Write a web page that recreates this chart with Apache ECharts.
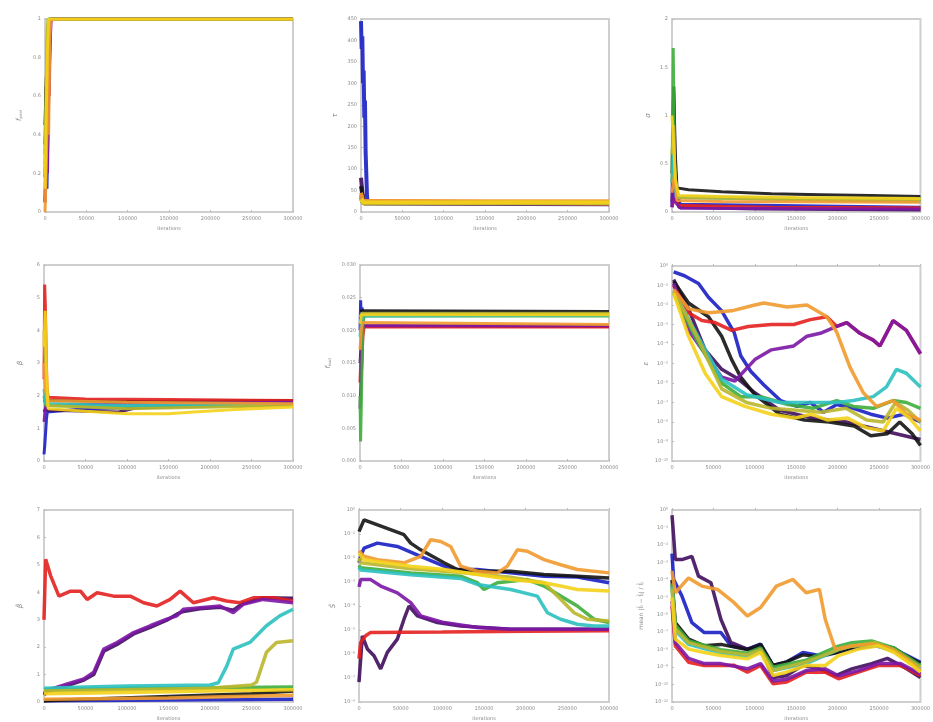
<!DOCTYPE html>
<html><head><meta charset="utf-8">
<script src="https://cdn.jsdelivr.net/npm/echarts@6/dist/echarts.min.js"></script>
<style>html,body{margin:0;padding:0;background:#fff}#c{width:933px;height:722px}</style>
</head><body><div id="c"></div>
<script>
// ---------- shared axis values ----------
const xMin = 0, xMax = 300000, xStep = 50000;
const chainOrder = ['blue','darkpurple','black','red','purple','green','cyan','olive','orange','yellow'];

// ---------- panel 1 : f_peel ----------
const p1_red = [[0,0.05],[1200,0.42],[2400,0.28],[3800,0.75],[5200,0.6],[6500,0.98],[8000,1],[300000,1]];
const p1_orange = [[0,0.0],[1500,0.22],[3000,0.55],[4400,0.4],[5800,0.9],[7200,1],[300000,1]];
const p1_yellow = [[0,0.12],[1500,0.5],[3000,0.85],[4500,1],[300000,1]];
const p1_olive = [[0,0.2],[1200,0.62],[2600,0.95],[3800,1],[300000,1]];
const p1_green = [[0,0.3],[1400,0.55],[2800,0.9],[4200,1],[300000,1]];
const p1_cyan = [[0,0.25],[1800,0.6],[3300,0.8],[4700,1],[300000,1]];
const p1_blue = [[0,0.18],[1000,0.33],[2400,0.12],[3800,0.5],[5200,0.78],[6800,1],[300000,1]];
const p1_purple = [[0,0.05],[1500,0.3],[3000,0.2],[4500,0.6],[6000,0.85],[7500,1],[300000,1]];
const p1_darkpurple = [[0,0.35],[1300,0.65],[2600,0.5],[4000,0.9],[5400,1],[300000,1]];
const p1_black = [[0,0.45],[1600,0.7],[3200,0.6],[4600,0.95],[6000,1],[300000,1]];

// ---------- panel 2 : tau ----------
const p2_blue = [[0,445],[800,380],[1600,410],[2400,300],[3200,330],[4000,220],[4800,260],[5600,140],[6400,90],[7200,40],[8000,22],[300000,20]];
const p2_black = [[0,60],[2000,35],[4000,22],[300000,21]];
const p2_red = [[0,40],[2500,25],[300000,19]];
const p2_darkpurple = [[0,80],[2000,40],[4000,20],[300000,18]];
const p2_purple = [[0,35],[2500,21],[300000,20]];
const p2_green = [[0,30],[2500,23],[300000,22]];
const p2_cyan = [[0,28],[2500,24],[300000,23]];
const p2_olive = [[0,32],[2500,20],[150000,21],[300000,20]];
const p2_orange = [[0,45],[2500,26],[150000,25],[300000,25]];
const p2_yellow = [[0,30],[3000,23],[100000,22],[200000,23],[300000,22]];

// ---------- panel 3 : sigma ----------
const p3_green = [[0,0.3],[1500,1.7],[3000,0.5],[5000,0.25],[8000,0.16],[150000,0.14],[300000,0.13]];
const p3_black = [[0,0.4],[2000,1.3],[4000,0.6],[6000,0.25],[20000,0.23],[60000,0.21],[120000,0.19],[180000,0.18],[240000,0.17],[300000,0.16]];
const p3_yellow = [[0,1.0],[2000,0.7],[4000,0.35],[8000,0.17],[60000,0.16],[150000,0.15],[300000,0.14]];
const p3_olive = [[0,0.6],[2000,0.9],[4000,0.3],[8000,0.15],[150000,0.13],[300000,0.12]];
const p3_orange = [[0,0.2],[3000,0.4],[6000,0.12],[60000,0.11],[300000,0.1]];
const p3_red = [[0,0.05],[3000,0.15],[8000,0.07],[60000,0.06],[120000,0.05],[300000,0.045]];
const p3_purple = [[0,0.05],[2000,0.9],[4000,0.1],[10000,0.04],[300000,0.03]];
const p3_darkpurple = [[0,0.1],[2000,1.3],[4000,0.35],[8000,0.05],[100000,0.03],[300000,0.02]];
const p3_blue = [[0,0.05],[2000,0.55],[4000,0.45],[6000,0.2],[10000,0.08],[300000,0.05]];
const p3_cyan = [[0,0.3],[2000,0.6],[5000,0.15],[300000,0.11]];

// ---------- panel 4 : beta ----------
const p4_red = [[0,2.5],[800,5.4],[1600,4.8],[2500,3.5],[3500,2.3],[5000,1.95],[50000,1.9],[150000,1.88],[250000,1.86],[300000,1.85]];
const p4_blue = [[0,0.2],[1000,0.5],[2000,0.9],[3000,1.3],[4000,1.5],[6000,1.55],[50000,1.6],[150000,1.65],[300000,1.75]];
const p4_black = [[0,1.8],[3000,1.85],[100000,1.82],[300000,1.85]];
const p4_darkpurple = [[0,1.5],[2000,1.6],[5000,1.55],[90000,1.5],[110000,1.62],[300000,1.8]];
const p4_yellow = [[0,3.5],[1500,4.6],[3000,2.8],[5000,1.6],[50000,1.52],[100000,1.45],[150000,1.45],[180000,1.5],[230000,1.58],[300000,1.65]];
const p4_orange = [[0,3],[1500,2.2],[4000,1.85],[100000,1.8],[300000,1.75]];
const p4_olive = [[0,4],[1500,3],[4000,1.7],[100000,1.6],[300000,1.7]];
const p4_green = [[0,2],[2000,1.7],[100000,1.65],[300000,1.72]];
const p4_cyan = [[0,2.2],[2000,1.75],[100000,1.7],[300000,1.74]];
const p4_purple = [[0,1.2],[2000,1.7],[100000,1.75],[300000,1.8]];

// ---------- panel 5 : f_nucl ----------
const p5_blue = [[0,0.02],[800,0.0246],[1600,0.021],[2400,0.0235],[3500,0.0228],[300000,0.0227]];
const p5_green = [[0,0.01],[700,0.003],[1500,0.008],[2500,0.015],[3500,0.021],[5000,0.0222],[300000,0.0222]];
const p5_red = [[0,0.012],[1000,0.016],[2000,0.014],[3500,0.019],[5000,0.0205],[300000,0.0205]];
const p5_darkpurple = [[0,0.015],[1500,0.018],[3000,0.0207],[300000,0.0206]];
const p5_purple = [[0,0.008],[1200,0.012],[2500,0.0195],[4000,0.0207],[300000,0.0207]];
const p5_black = [[0,0.023],[2000,0.0228],[300000,0.0229]];
const p5_orange = [[0,0.017],[1500,0.02],[3000,0.0212],[300000,0.0209]];
const p5_yellow = [[0,0.021],[2000,0.0224],[300000,0.0224]];
const p5_olive = [[0,0.022],[2000,0.0226],[300000,0.0226]];
const p5_cyan = [[0,0.019],[2000,0.0222],[300000,0.0223]];

// ---------- panel 6 : epsilon (log10 values) ----------
const p6_blue = [[2000,-0.3],[15000,-0.5],[32000,-0.9],[44000,-1.6],[60000,-2.3],[75000,-3.4],[83000,-4.6],[95000,-5.4],[111000,-6.1],[131000,-6.9],[151000,-7.2],[167000,-7.0],[183000,-7.5],[199000,-7.1],[219000,-7.3],[240000,-7.6],[260000,-7.8],[280000,-7.6],[300000,-8.0]];
const p6_black = [[2000,-0.8],[20000,-1.9],[44000,-2.6],[60000,-3.6],[72000,-4.8],[83000,-5.7],[100000,-6.6],[130000,-7.6],[160000,-7.9],[190000,-8.0],[220000,-8.2],[240000,-8.7],[260000,-8.6],[275000,-8.0],[290000,-8.6],[300000,-9.2]];
const p6_red = [[2000,-1.0],[20000,-2.4],[36000,-2.8],[52000,-2.9],[72000,-3.3],[92000,-3.1],[120000,-3.0],[147000,-3.0],[167000,-2.75],[187000,-2.6],[199000,-3.1],[211000,-2.9],[227000,-3.45],[243000,-3.8],[251000,-4.1],[267000,-2.8],[283000,-3.3],[300000,-4.5]];
const p6_orange = [[2000,-1.2],[20000,-2.2],[44000,-2.4],[72000,-2.3],[100000,-2.0],[111000,-1.9],[139000,-2.1],[163000,-2.0],[187000,-2.6],[199000,-3.4],[215000,-5.2],[231000,-6.5],[247000,-7.2],[267000,-6.9],[283000,-7.6],[300000,-7.9]];
const p6_purple = [[2000,-0.9],[20000,-3.3],[40000,-4.5],[60000,-5.7],[76000,-5.9],[100000,-4.8],[120000,-4.3],[147000,-4.1],[163000,-3.6],[179000,-3.45],[199000,-3.1],[211000,-2.9],[227000,-3.45],[243000,-3.8],[251000,-4.1],[267000,-2.8],[283000,-3.3],[300000,-4.5]];
const p6_darkpurple = [[2000,-0.7],[20000,-2.2],[40000,-4.3],[60000,-5.3],[80000,-5.8],[100000,-6.5],[130000,-7.4],[170000,-7.8],[210000,-8.0],[250000,-8.4],[300000,-8.9]];
const p6_cyan = [[2000,-1.3],[30000,-3.5],[60000,-5.8],[90000,-6.6],[130000,-7.0],[170000,-7.0],[200000,-7.0],[219000,-6.9],[243000,-6.7],[259000,-6.2],[271000,-5.3],[283000,-5.5],[300000,-6.2]];
const p6_green = [[2000,-1.4],[30000,-3.8],[60000,-6.0],[83000,-6.7],[107000,-6.7],[140000,-7.1],[170000,-7.3],[199000,-6.9],[219000,-7.2],[243000,-7.3],[267000,-6.9],[283000,-7.0],[300000,-7.3]];
const p6_olive = [[2000,-1.3],[30000,-3.6],[60000,-6.3],[90000,-7.0],[120000,-7.3],[150000,-7.4],[180000,-7.5],[210000,-7.3],[235000,-7.9],[255000,-8.0],[270000,-7.0],[285000,-7.4],[300000,-8.0]];
const p6_yellow = [[2000,-1.4],[20000,-3.6],[40000,-5.5],[60000,-6.7],[88000,-7.2],[120000,-7.6],[148000,-7.8],[168000,-7.6],[188000,-7.9],[212000,-7.8],[235000,-8.3],[255000,-8.45],[271000,-7.3],[287000,-7.8],[300000,-8.45]];

// ---------- panel 7 ----------
const p7_red = [[0,3.0],[2000,5.2],[4000,5.0],[8000,4.6],[18000,3.86],[32000,4.04],[44000,4.04],[52000,3.74],[64000,3.98],[84000,3.86],[104000,3.86],[120000,3.62],[136000,3.5],[152000,3.74],[164000,4.04],[180000,3.62],[204000,3.8],[220000,3.68],[236000,3.62],[252000,3.8],[276000,3.8],[300000,3.68]];
const p7_purple = [[0,0.3],[4000,0.42],[28000,0.66],[48000,0.84],[60000,1.09],[72000,1.93],[88000,2.17],[108000,2.53],[128000,2.78],[148000,3.02],[160000,3.14],[168000,3.38],[188000,3.44],[212000,3.5],[228000,3.26],[240000,3.56],[264000,3.74],[300000,3.62]];
const p7_darkpurple = [[0,0.25],[4000,0.38],[28000,0.6],[48000,0.8],[60000,1.0],[72000,1.85],[88000,2.1],[108000,2.48],[128000,2.72],[148000,2.98],[160000,3.2],[168000,3.3],[188000,3.4],[212000,3.45],[228000,3.35],[240000,3.6],[264000,3.8],[300000,3.78]];
const p7_cyan = [[0,0.5],[50000,0.55],[100000,0.58],[150000,0.6],[200000,0.62],[210000,0.7],[220000,1.3],[228000,1.93],[248000,2.17],[268000,2.78],[284000,3.14],[300000,3.38]];
const p7_olive = [[0,0.4],[100000,0.45],[200000,0.5],[250000,0.62],[256000,0.72],[268000,1.81],[280000,2.17],[300000,2.23]];
const p7_yellow = [[0,0.3],[100000,0.35],[200000,0.4],[300000,0.45]];
const p7_green = [[0,0.45],[100000,0.5],[200000,0.52],[300000,0.55]];
const p7_black = [[0,0.05],[50000,0.1],[150000,0.2],[250000,0.3],[300000,0.4]];
const p7_orange = [[0,0.1],[150000,0.15],[300000,0.25]];
const p7_blue = [[0,0.05],[300000,0.1]];

// ---------- panel 8 (log10 values) ----------
const p8_black = [[0,-0.9],[2000,-0.83],[6000,-0.41],[54000,-1.03],[62000,-1.38],[74000,-1.66],[102000,-2.2],[118000,-2.48],[150000,-2.55],[182000,-2.55],[222000,-2.69],[262000,-2.76],[300000,-2.83]];
const p8_blue = [[0,-2.2],[2000,-1.93],[6000,-1.59],[22000,-1.38],[46000,-1.52],[74000,-1.93],[102000,-2.34],[114000,-2.48],[142000,-2.48],[182000,-2.62],[222000,-2.76],[262000,-2.79],[300000,-3.03]];
const p8_orange = [[0,-1.7],[6000,-1.93],[22000,-2.07],[54000,-2.2],[74000,-1.93],[86000,-1.24],[98000,-1.31],[110000,-1.52],[122000,-2.34],[142000,-2.55],[166000,-2.62],[178000,-2.34],[190000,-1.66],[202000,-1.72],[222000,-2.07],[242000,-2.28],[262000,-2.48],[300000,-2.62]];
const p8_yellow = [[0,-1.8],[6000,-2.07],[62000,-2.34],[102000,-2.48],[142000,-2.69],[182000,-2.9],[222000,-3.03],[242000,-3.17],[262000,-3.31],[300000,-3.38]];
const p8_green = [[0,-2.3],[2000,-2.41],[62000,-2.62],[122000,-2.76],[142000,-3.03],[150000,-3.31],[166000,-3.03],[202000,-2.9],[222000,-3.17],[262000,-4.0],[282000,-4.55],[300000,-4.69]];
const p8_cyan = [[0,-2.4],[2000,-2.5],[62000,-2.7],[122000,-2.85],[142000,-3.1],[182000,-3.31],[214000,-3.59],[226000,-4.28],[242000,-4.55],[262000,-4.76],[282000,-4.83],[300000,-4.83]];
const p8_olive = [[0,-2.0],[2000,-2.2],[62000,-2.45],[122000,-2.6],[182000,-2.8],[222000,-3.03],[242000,-3.72],[258000,-4.28],[274000,-4.55],[300000,-4.62]];
const p8_purple = [[0,-3.2],[2000,-2.9],[14000,-2.9],[26000,-3.17],[46000,-3.45],[62000,-3.86],[74000,-4.41],[102000,-4.69],[142000,-4.9],[182000,-4.97],[300000,-4.97]];
const p8_darkpurple = [[0,-7.17],[4000,-5.24],[10000,-5.79],[18000,-6.07],[26000,-6.62],[34000,-5.93],[46000,-5.38],[54000,-4.55],[60000,-4.0],[70000,-4.41],[94000,-4.69],[122000,-4.83],[182000,-4.97],[300000,-4.97]];
const p8_red = [[0,-6.2],[2000,-5.52],[8000,-5.24],[14000,-5.1],[100000,-5.08],[200000,-5.05],[300000,-5.03]];

// ---------- panel 9 (log10 values) ----------
const p9_darkpurple = [[0,-0.3],[800,-0.76],[4000,-2.84],[12000,-2.84],[24000,-2.66],[32000,-3.79],[47000,-4.17],[59000,-6.26],[71000,-7.59],[91000,-7.97],[107000,-7.9],[122000,-9.6],[138000,-9.5],[158000,-8.9],[178000,-9.1],[197000,-9.5],[217000,-9.1],[241000,-8.8],[260000,-8.5],[280000,-9.0],[300000,-9.6]];
const p9_blue = [[0,-2.5],[2000,-3.98],[12000,-4.93],[24000,-6.45],[39000,-7.02],[59000,-7.02],[71000,-7.78],[91000,-7.97],[107000,-7.68],[122000,-8.91],[138000,-8.72],[158000,-8.16],[178000,-8.34],[197000,-8.16],[217000,-7.97],[245000,-7.78],[268000,-7.97],[284000,-8.34],[300000,-8.72]];
const p9_orange = [[0,-3.5],[4000,-4.74],[20000,-3.89],[36000,-4.36],[55000,-4.55],[75000,-5.31],[91000,-6.07],[107000,-5.59],[126000,-4.36],[146000,-3.98],[162000,-4.74],[178000,-4.55],[185000,-6.26],[197000,-7.97],[217000,-7.78],[241000,-7.68],[260000,-7.87],[280000,-8.43],[300000,-9.2]];
const p9_black = [[0,-4],[4000,-6.45],[20000,-7.4],[39000,-7.78],[59000,-7.7],[91000,-8.0],[107000,-7.7],[122000,-8.9],[138000,-8.7],[158000,-8.3],[178000,-8.4],[197000,-8.2],[217000,-7.9],[245000,-7.7],[268000,-7.9],[284000,-8.4],[300000,-8.8]];
const p9_yellow = [[0,-5],[4000,-7.4],[20000,-7.97],[39000,-8.16],[59000,-8.34],[91000,-8.53],[107000,-8.16],[122000,-9.48],[138000,-9.29],[162000,-8.91],[185000,-8.91],[201000,-8.34],[225000,-7.97],[249000,-7.78],[268000,-8.16],[288000,-8.82],[300000,-9.29]];
const p9_red = [[0,-5.5],[4000,-7.78],[20000,-8.72],[39000,-8.91],[59000,-8.91],[75000,-8.9],[91000,-9.29],[107000,-8.91],[122000,-9.96],[138000,-9.86],[162000,-9.29],[185000,-9.29],[201000,-9.67],[225000,-9.29],[249000,-8.91],[276000,-8.91],[300000,-9.48]];
const p9_olive = [[0,-4.5],[4000,-6.8],[20000,-7.6],[59000,-8.1],[91000,-8.3],[107000,-8.0],[122000,-9.2],[162000,-8.7],[201000,-8.0],[217000,-7.8],[245000,-7.6],[268000,-8.0],[300000,-9.0]];
const p9_green = [[0,-4.2],[4000,-6.6],[20000,-7.5],[59000,-8.0],[91000,-8.2],[107000,-7.9],[122000,-9.0],[162000,-8.6],[201000,-7.8],[217000,-7.6],[241000,-7.5],[268000,-7.9],[300000,-8.9]];
const p9_cyan = [[0,-4.4],[4000,-6.9],[20000,-7.7],[59000,-8.2],[91000,-8.4],[107000,-8.1],[122000,-9.2],[162000,-8.8],[201000,-8.0],[217000,-7.8],[241000,-7.7],[268000,-8.1],[300000,-9.1]];
const p9_purple = [[0,-5.2],[4000,-7.6],[20000,-8.5],[39000,-8.8],[59000,-8.8],[91000,-9.1],[107000,-8.8],[122000,-9.8],[138000,-9.7],[162000,-9.2],[185000,-9.1],[201000,-9.5],[225000,-9.2],[249000,-8.8],[276000,-8.8],[300000,-9.4]];

// ---------- styling (not data) ----------
const chainColor = {red:'#e3201f',orange:'#f29a2e',yellow:'#f4d21a',olive:'#b9b62c',green:'#3fae3c',cyan:'#2cc0c0',blue:'#1a1fc4',purple:'#7c16a6',darkpurple:'#3f0d5c',black:'#141414'};
const sup = s => String(s).replace(/-/g,'⁻').replace(/[0-9]/g, d => '⁰¹²³⁴⁵⁶⁷⁸⁹'[+d]);
const logFmt = v => '10' + sup(Math.round(v));

const panelData = [
  {red:p1_red,orange:p1_orange,yellow:p1_yellow,olive:p1_olive,green:p1_green,cyan:p1_cyan,blue:p1_blue,purple:p1_purple,darkpurple:p1_darkpurple,black:p1_black},
  {red:p2_red,orange:p2_orange,yellow:p2_yellow,olive:p2_olive,green:p2_green,cyan:p2_cyan,blue:p2_blue,purple:p2_purple,darkpurple:p2_darkpurple,black:p2_black},
  {red:p3_red,orange:p3_orange,yellow:p3_yellow,olive:p3_olive,green:p3_green,cyan:p3_cyan,blue:p3_blue,purple:p3_purple,darkpurple:p3_darkpurple,black:p3_black},
  {red:p4_red,orange:p4_orange,yellow:p4_yellow,olive:p4_olive,green:p4_green,cyan:p4_cyan,blue:p4_blue,purple:p4_purple,darkpurple:p4_darkpurple,black:p4_black},
  {red:p5_red,orange:p5_orange,yellow:p5_yellow,olive:p5_olive,green:p5_green,cyan:p5_cyan,blue:p5_blue,purple:p5_purple,darkpurple:p5_darkpurple,black:p5_black},
  {red:p6_red,orange:p6_orange,yellow:p6_yellow,olive:p6_olive,green:p6_green,cyan:p6_cyan,blue:p6_blue,purple:p6_purple,darkpurple:p6_darkpurple,black:p6_black},
  {red:p7_red,orange:p7_orange,yellow:p7_yellow,olive:p7_olive,green:p7_green,cyan:p7_cyan,blue:p7_blue,purple:p7_purple,darkpurple:p7_darkpurple,black:p7_black},
  {red:p8_red,orange:p8_orange,yellow:p8_yellow,olive:p8_olive,green:p8_green,cyan:p8_cyan,blue:p8_blue,purple:p8_purple,darkpurple:p8_darkpurple,black:p8_black},
  {red:p9_red,orange:p9_orange,yellow:p9_yellow,olive:p9_olive,green:p9_green,cyan:p9_cyan,blue:p9_blue,purple:p9_purple,darkpurple:p9_darkpurple,black:p9_black}
];

const panelLayout = [
  {g:{left:45,top:19,width:248,height:193}, y:{min:0,max:1,interval:0.2}, name:'{i|f}{s|peel}', gap:22, lw:3, fmt:v=>String(+v.toFixed(1))},
  {g:{left:361,top:19,width:248,height:193}, y:{min:0,max:450,interval:50}, name:'{i|τ}', gap:22, lw:4, fmt:v=>String(v)},
  {g:{left:672,top:19,width:252,height:193}, y:{min:0,max:2,interval:0.5}, name:'{i|σ}', gap:20, lw:3, fmt:v=>String(v)},
  {g:{left:44,top:265,width:249,height:196}, y:{min:0,max:6,interval:1}, name:'{i|β}', gap:20, lw:3, fmt:v=>String(v)},
  {g:{left:360,top:265,width:249,height:196}, y:{min:0,max:0.03,interval:0.005}, name:'{i|f}{s|nucl}', gap:28, lw:3, fmt:v=>v.toFixed(3)},
  {g:{left:672,top:266,width:252,height:195}, y:{min:-10,max:0,interval:1}, name:'{i|ε}', gap:22, lw:3.5, fmt:logFmt},
  {g:{left:44,top:510,width:249,height:193}, y:{min:0,max:7,interval:1}, name:'{i|β̂}', gap:20, lw:3.5, fmt:v=>String(v)},
  {g:{left:359,top:510,width:250,height:193}, y:{min:-8,max:0,interval:1}, name:'{i|Ŝ}', gap:22, lw:3.5, fmt:logFmt},
  {g:{left:672,top:510,width:253,height:193}, y:{min:-11,max:0,interval:1}, name:'{t|mean |f̂}{s|i}{t| − f̂}{s|j}{t|| / f̂}{s|j}', gap:28, lw:3.5, fmt:logFmt}
];

const labelColor = '#8a8a8a';
const grids = [], xAxes = [], yAxes = [], series = [];
panelLayout.forEach((p, i) => {
  grids.push(Object.assign({show:true, borderColor:'#cfcfcf', borderWidth:2, backgroundColor:'#fff', containLabel:false}, p.g));
  xAxes.push({type:'value', gridIndex:i, min:xMin, max:xMax, interval:xStep,
    name:'iterations', nameLocation:'middle', nameGap:14, nameTextStyle:{fontSize:5, color:labelColor},
    axisLine:{show:false}, splitLine:{show:false},
    axisTick:{show:true, inside:true, length:2, lineStyle:{color:'#bbb'}},
    axisLabel:{fontSize:5, color:labelColor, margin:4, formatter:v=>String(v)}});
  yAxes.push({type:'value', gridIndex:i, min:p.y.min, max:p.y.max, interval:p.y.interval,
    name:p.name, nameLocation:'middle', nameGap:p.gap, nameRotate:90,
    nameTextStyle:{color:labelColor, rich:{i:{fontSize:7,color:labelColor,fontStyle:'italic'}, s:{fontSize:4,color:labelColor,verticalAlign:'bottom'}, t:{fontSize:6,color:labelColor}}},
    axisLine:{show:false}, splitLine:{show:false},
    axisTick:{show:true, inside:true, length:2, lineStyle:{color:'#bbb'}},
    axisLabel:{fontSize:5, color:labelColor, margin:4, formatter:p.fmt}});
  chainOrder.forEach(c => {
    series.push({type:'line', xAxisIndex:i, yAxisIndex:i, data:panelData[i][c], showSymbol:false, symbol:'none',
      smooth:false, lineStyle:{color:chainColor[c], width:p.lw, opacity:0.9}, z:2, animation:false, silent:true});
  });
});

const chart = echarts.init(document.getElementById('c'), null, {renderer:'canvas'});
chart.setOption({animation:false, backgroundColor:'#fff', textStyle:{fontFamily:'DejaVu Sans'},
  grid:grids, xAxis:xAxes, yAxis:yAxes, series:series});
</script></body></html>
